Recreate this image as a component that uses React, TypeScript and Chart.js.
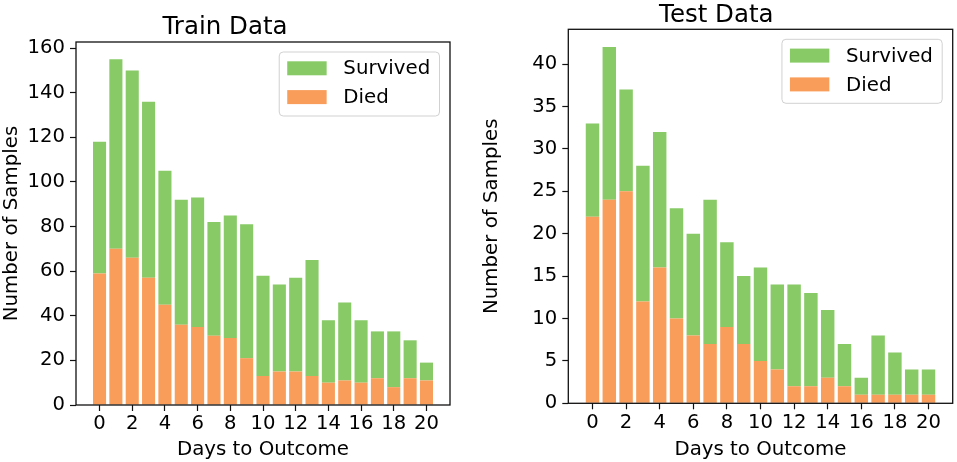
import { useEffect, useRef } from "react"
import { Chart, registerables, type Plugin } from "chart.js"

Chart.register(...registerables)

// days to outcome, 0..20
const days = [0, 1, 2, 3, 4, 5, 6, 7, 8, 9, 10, 11, 12, 13, 14, 15, 16, 17, 18, 19, 20]
const xTicks = [0, 2, 4, 6, 8, 10, 12, 14, 16, 18, 20]

// train set: total bar height and died part
const trainTotal = [118, 155, 150, 136, 105, 92, 93, 82, 85, 81, 58, 54, 57, 65, 38, 46, 38, 33, 33, 29, 19]
const trainDied = [59, 70, 66, 57, 45, 36, 35, 31, 30, 21, 13, 15, 15, 13, 10, 11, 10, 12, 8, 12, 11]
const trainYTicks = [0, 20, 40, 60, 80, 100, 120, 140, 160]

// test set
const testTotal = [33, 42, 37, 28, 32, 23, 20, 24, 19, 15, 16, 14, 14, 13, 11, 7, 3, 8, 6, 4, 4]
const testDied = [22, 24, 25, 12, 16, 10, 8, 7, 9, 7, 5, 4, 2, 2, 3, 2, 1, 1, 1, 1, 1]
const testYTicks = [0, 5, 10, 15, 20, 25, 30, 35, 40]

const GREEN = "rgb(135, 202, 102)"
const ORANGE = "rgb(249, 157, 90)"
const FONT = "'DejaVu Sans', sans-serif"
const TICK_SIZE = 19.6
const LABEL_SIZE = 19.8

// matplotlib-like full box around the plot area
const framePlugin: Plugin = {
  id: "frame",
  afterDatasetsDraw(chart) {
    const { ctx, chartArea: a } = chart
    ctx.save()
    ctx.strokeStyle = "#111"
    ctx.lineWidth = 1.3
    ctx.strokeRect(a.left, a.top, a.right - a.left, a.bottom - a.top)
    ctx.restore()
  },
}

// legend box in the upper right corner of the plot
const boxLegendPlugin: Plugin = {
  id: "boxLegend",
  afterDraw(chart) {
    const { ctx, chartArea: a } = chart
    const items = [
      { label: "Survived", color: GREEN },
      { label: "Died", color: ORANGE },
    ]
    ctx.save()
    ctx.font = `${LABEL_SIZE}px ${FONT}`
    const textW = Math.max(...items.map((it) => ctx.measureText(it.label).width))
    const w = 8 + 39.4 + 16.7 + textW + 9.3
    const h = 64
    const x = a.right - 10.5 - w
    const y = a.top + 10
    ctx.beginPath()
    ctx.roundRect(x, y, w, h, 4)
    ctx.fillStyle = "rgba(255,255,255,0.8)"
    ctx.fill()
    ctx.strokeStyle = "rgba(204,204,204,0.9)"
    ctx.lineWidth = 1
    ctx.stroke()
    items.forEach((it, i) => {
      const cy = y + 16.3 + i * 28.8
      ctx.fillStyle = it.color
      ctx.fillRect(x + 8, cy - 7, 39.4, 14)
      ctx.fillStyle = "#000"
      ctx.textBaseline = "middle"
      ctx.textAlign = "left"
      ctx.fillText(it.label, x + 8 + 39.4 + 16.7, cy + 1)
    })
    ctx.restore()
  },
}

interface PanelProps {
  title: string
  total: number[]
  died: number[]
  yTicks: number[]
  left: number
  width: number
  yAxisWidth: number
  rightPad: number
  titlePad: { top: number; bottom: number }
  xAxisHeight: number
}

function BarPanel(props: PanelProps) {
  const canvasRef = useRef<HTMLCanvasElement>(null)
  const chartRef = useRef<Chart | null>(null)

  useEffect(() => {
    if (!canvasRef.current) return
    if (chartRef.current) chartRef.current.destroy()

    const yMax = Math.max(...props.total) * 1.05
    const survived = props.total.map((t, i) => t - props.died[i])

    chartRef.current = new Chart(canvasRef.current, {
      type: "bar",
      data: {
        datasets: [
          {
            label: "Died",
            data: days.map((d, i) => ({ x: d, y: props.died[i] })),
            backgroundColor: ORANGE,
            categoryPercentage: 1,
            barPercentage: 0.8,
          },
          {
            label: "Survived",
            data: days.map((d, i) => ({ x: d, y: survived[i] })),
            backgroundColor: GREEN,
            categoryPercentage: 1,
            barPercentage: 0.8,
          },
        ],
      },
      options: {
        animation: false,
        responsive: true,
        maintainAspectRatio: false,
        layout: { padding: { left: 0, right: props.rightPad, top: 0, bottom: 0 } },
        plugins: {
          legend: { display: false },
          tooltip: { enabled: false },
          title: {
            display: true,
            text: props.title,
            color: "#000",
            font: { family: FONT, size: 24.5, weight: "normal", lineHeight: 1.1 },
            padding: props.titlePad,
          },
        },
        scales: {
          x: {
            type: "linear",
            stacked: true,
            offset: false,
            min: -1.44,
            max: 21.44,
            afterBuildTicks: (scale) => {
              scale.ticks = xTicks.map((v) => ({ value: v }))
            },
            afterFit: (scale) => {
              scale.height = props.xAxisHeight
            },
            grid: { offset: false, drawOnChartArea: false, drawTicks: true, tickLength: 6, tickWidth: 1.2, color: "#111" },
            border: { display: false },
            ticks: { color: "#000", font: { family: FONT, size: TICK_SIZE }, padding: 1.5, maxRotation: 0, autoSkip: false },
            title: {
              display: true,
              text: "Days to Outcome",
              color: "#000",
              font: { family: FONT, size: LABEL_SIZE, lineHeight: 1.2 },
              padding: { top: 0, bottom: 0.5 },
            },
          },
          y: {
            stacked: true,
            min: 0,
            max: yMax,
            afterBuildTicks: (scale) => {
              scale.ticks = props.yTicks.map((v) => ({ value: v }))
            },
            afterFit: (scale) => {
              scale.width = props.yAxisWidth
            },
            grid: { drawOnChartArea: false, drawTicks: true, tickLength: 6, tickWidth: 1.2, color: "#111" },
            border: { display: false },
            ticks: { color: "#000", font: { family: FONT, size: TICK_SIZE }, padding: 5 },
            title: {
              display: true,
              text: "Number of Samples",
              color: "#000",
              font: { family: FONT, size: LABEL_SIZE, lineHeight: 1.2 },
              padding: { top: 0, bottom: 0 },
            },
          },
        },
      },
      plugins: [framePlugin, boxLegendPlugin],
    })

    return () => {
      if (chartRef.current) {
        chartRef.current.destroy()
        chartRef.current = null
      }
    }
  }, [props])

  return (
    <div style={{ position: "absolute", left: props.left, top: 0, width: props.width, height: 462 }}>
      <canvas ref={canvasRef} />
    </div>
  )
}

const trainProps: PanelProps = {
  title: "Train Data",
  total: trainTotal,
  died: trainDied,
  yTicks: trainYTicks,
  left: 0,
  width: 460,
  yAxisWidth: 76,
  rightPad: 10,
  titlePad: { top: 14, bottom: 1.05 },
  xAxisHeight: 57,
}

const testProps: PanelProps = {
  title: "Test Data",
  total: testTotal,
  died: testDied,
  yTicks: testYTicks,
  left: 480,
  width: 477,
  yAxisWidth: 88.3,
  rightPad: 4.3,
  titlePad: { top: 2.3, bottom: 0.05 },
  xAxisHeight: 58.7,
}

export default function App() {
  return (
    <div style={{ position: "absolute", left: 0, top: 0, width: 957, height: 462, background: "#fff", overflow: "hidden" }}>
      <BarPanel {...trainProps} />
      <BarPanel {...testProps} />
    </div>
  )
}
